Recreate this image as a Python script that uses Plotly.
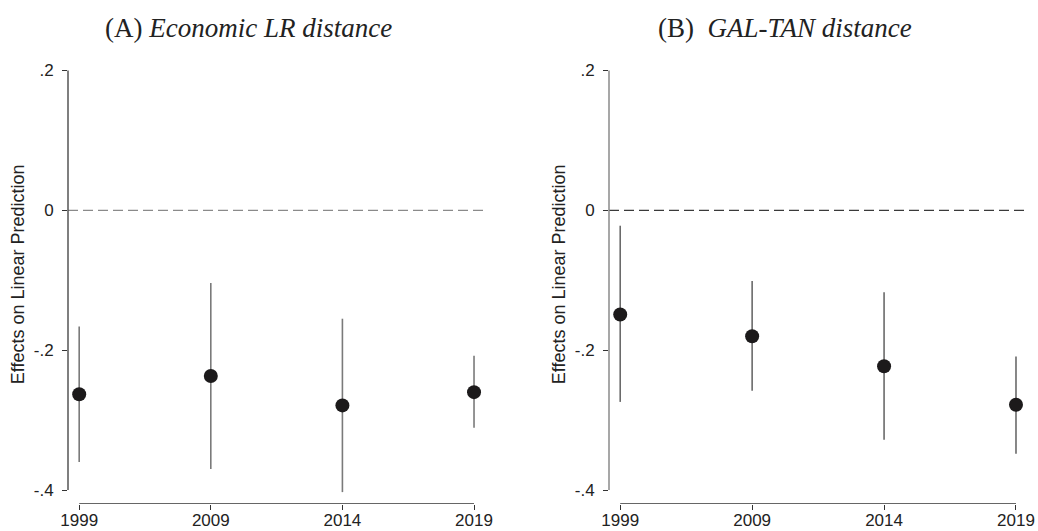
import plotly.graph_objects as go

# ---- data ----
years = ["1999", "2009", "2014", "2019"]
econ_est = [-0.263, -0.237, -0.279, -0.260]
econ_lo = [-0.360, -0.370, -0.403, -0.311]
econ_hi = [-0.166, -0.104, -0.155, -0.208]
galtan_est = [-0.149, -0.180, -0.223, -0.278]
galtan_lo = [-0.274, -0.258, -0.328, -0.348]
galtan_hi = [-0.022, -0.101, -0.117, -0.209]
ytick_vals = [0.2, 0, -0.2, -0.4]
ytick_text = [".2", "0", "-.2", "-.4"]

W, H = 1038, 531
ML, MR, MT, MB = 68, 10, 59.5, 27
PW = W - ML - MR
PH = H - MT - MB

def px_x(p):
    return (p - ML) / PW

def px_y(p):
    return (H - MB - p) / PH

xpos = list(range(len(years)))
fig = go.Figure()

panels = [
    ("x", "y", econ_est, econ_lo, econ_hi, "#7a7a7a", "#8a8a8a", "#555555"),
    ("x2", "y2", galtan_est, galtan_lo, galtan_hi, "#6a6a6a", "#3a3a3a", "#8a8a8a"),
]
for xa, ya, est, lo, hi, ecol, dcol, acol in panels:
    fig.add_trace(go.Scatter(
        x=xpos, y=est, xaxis=xa, yaxis=ya, mode="markers",
        marker=dict(size=14, color="#1c1a1b"),
        error_y=dict(type="data", symmetric=False,
                     array=[h - e for h, e in zip(hi, est)],
                     arrayminus=[e - l for e, l in zip(est, lo)],
                     width=0, thickness=1.6, color=ecol),
        cliponaxis=False, showlegend=False,
    ))
    xd = "x domain" if xa == "x" else "x2 domain"
    # zero reference line
    fig.add_shape(type="line", xref=xd, yref=ya, x0=0, x1=1, y0=0, y1=0,
                  line=dict(color=dcol, width=1.3, dash="10px,5px"), layer="below")
    # y axis line from .2 to -.4
    fig.add_shape(type="line", xref=xd, yref=ya, x0=0, x1=0, y0=-0.4, y1=0.2,
                  line=dict(color=acol, width=1.5))
    # x axis line from first to last category
    fig.add_shape(type="line", xref=xa, yref=ya, x0=xpos[0], x1=xpos[-1], y0=-0.42, y1=-0.42,
                  line=dict(color="#333333", width=1.3))

xrange = [-0.085, 3.091]
yrange = [-0.42, 0.215]
axfont = dict(family="Liberation Sans, Arial, sans-serif", size=17, color="#222")
common_x = dict(range=xrange, tickvals=xpos, ticktext=years, showgrid=False, zeroline=False,
                showline=False, ticks="outside", ticklen=5, tickcolor="#333", tickwidth=1.2,
                tickfont=axfont, ticklabelstandoff=-4, fixedrange=True, automargin=False)
common_y = dict(range=yrange, domain=[0, 1], tickvals=ytick_vals, ticktext=ytick_text,
                showgrid=False, zeroline=False, showline=False, ticks="outside", ticklen=5,
                tickcolor="#333", tickwidth=1.2, tickfont=axfont, ticklabelstandoff=5,
                fixedrange=True, automargin=False)

fig.update_layout(
    width=W, height=H,
    margin=dict(l=ML, r=MR, t=MT, b=MB, autoexpand=False),
    paper_bgcolor="white", plot_bgcolor="white",
    xaxis=dict(domain=[px_x(68), px_x(486)], anchor="y", **common_x),
    yaxis=dict(anchor="x", **common_y),
    xaxis2=dict(domain=[px_x(609), px_x(1028)], anchor="y2", **common_x),
    yaxis2=dict(anchor="x2", **common_y),
)

titlefont = dict(family="Liberation Serif, Times New Roman, serif", size=27, color="#222")
fig.add_annotation(text="(A) <i>Economic LR distance</i>", x=px_x(248.8), y=px_y(27),
                   xref="paper", yref="paper", showarrow=False, font=titlefont,
                   xanchor="center", yanchor="middle")
fig.add_annotation(text="(B)  <i>GAL-TAN distance</i>", x=px_x(785), y=px_y(27),
                   xref="paper", yref="paper", showarrow=False, font=titlefont,
                   xanchor="center", yanchor="middle")
ytfont = dict(family="Liberation Sans, Arial, sans-serif", size=18, color="#222")
for xp in (18, 559):
    fig.add_annotation(text="Effects on Linear Prediction", x=px_x(xp), y=px_y(274),
                       xref="paper", yref="paper", showarrow=False, textangle=-90,
                       font=ytfont, xanchor="center", yanchor="middle")

fig.write_html("out.html")
